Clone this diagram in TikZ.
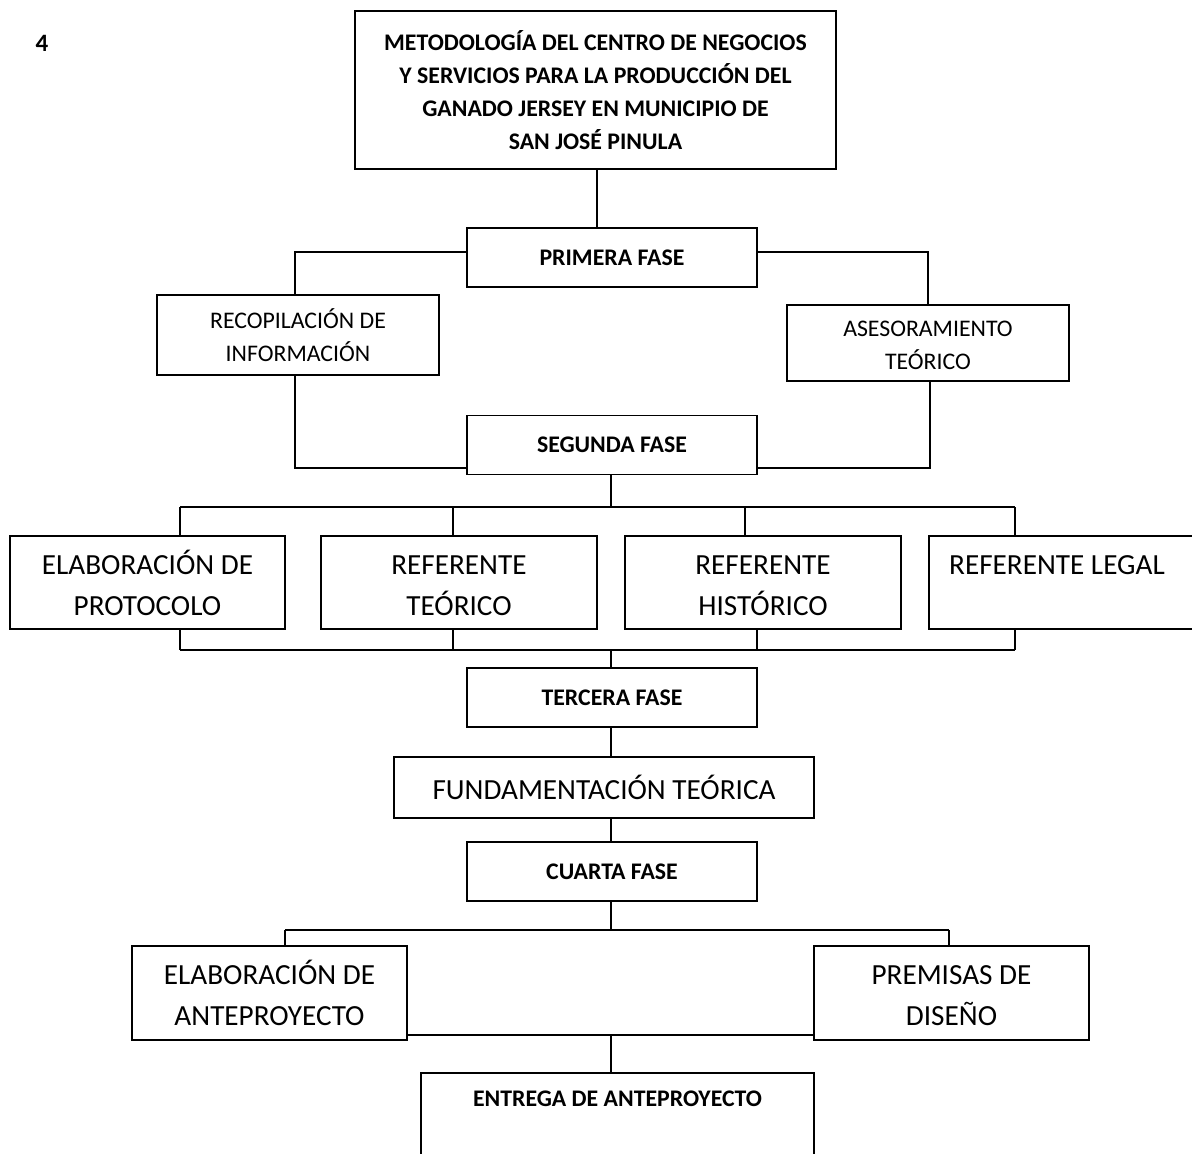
\documentclass[tikz,border=0pt]{standalone}
\usepackage{fontspec}
\setmainfont{Carlito}
\begin{document}
\begin{tikzpicture}[x=1pt,y=-1pt,
  box/.style={draw, line width=1.9pt, inner sep=0pt, align=center},
  bt/.style={font=\bfseries\fontsize{23.8}{33}\selectfont},
  mt/.style={font=\fontsize{23.8}{33}\selectfont},
  lt/.style={font=\fontsize{29.2}{41}\selectfont},
  conn/.style={line width=1.6pt}]
\useasboundingbox (0,0) rectangle (1192,1154);
\fill[white] (0,0) rectangle (1192,1154);
\clip (0,0) rectangle (1192,1154);

\node[font=\bfseries\fontsize{25}{30}\selectfont] (num) at (42,43) {4};

\node[box,bt,minimum width=481pt,minimum height=158pt] (top) at (595.5,90)
  {METODOLOGÍA DEL CENTRO DE NEGOCIOS\\Y SERVICIOS PARA LA PRODUCCIÓN DEL\\GANADO JERSEY EN MUNICIPIO DE\\SAN JOSÉ PINULA};

\node[box,bt,minimum width=290pt,minimum height=59pt] (primera) at (612,257.5) {PRIMERA FASE};
\node[box,mt,minimum width=282pt,minimum height=80pt] (recop) at (298,335) {RECOPILACIÓN DE\\INFORMACIÓN};
\node[box,mt,minimum width=282pt,minimum height=76pt] (asesor) at (928,343) {ASESORAMIENTO\vphantom{Ó}\\TEÓRICO};
\node[box,bt,minimum width=290pt,minimum height=59pt] (segunda) at (612,445) {SEGUNDA FASE};

\node[box,lt,minimum width=275.5pt,minimum height=93pt] (p1) at (147.5,582.5) {ELABORACIÓN DE\\PROTOCOLO};
\node[box,lt,minimum width=275.5pt,minimum height=93pt] (p2) at (459,582.5) {REFERENTE\vphantom{Ó}\\TEÓRICO};
\node[box,lt,minimum width=275.5pt,minimum height=93pt] (p3) at (763,582.5) {REFERENTE\vphantom{Ó}\\HISTÓRICO};
\node[box,lt,minimum width=275.5pt,minimum height=93pt] (p4) at (1066.5,582.5) {REFERENTE LEGAL\vphantom{Ó}\hspace*{19pt}\\\mbox{}};

\node[box,bt,minimum width=290pt,minimum height=59pt] (tercera) at (612,697.5) {TERCERA FASE};
\node[box,lt,minimum width=420pt,minimum height=61pt] (fund) at (604,787.5) {FUNDAMENTACIÓN TEÓRICA};
\node[box,bt,minimum width=290pt,minimum height=59pt] (cuarta) at (612,871.5) {CUARTA FASE};

\node[box,lt,minimum width=275pt,minimum height=94pt] (ante) at (269.5,993) {ELABORACIÓN DE\\ANTEPROYECTO};
\node[box,lt,minimum width=275pt,minimum height=94pt] (prem) at (951.5,993) {PREMISAS DE\vphantom{Ó}\\DISEÑO};
\node[box,bt,anchor=north,minimum width=393pt,text height=33.7pt,text depth=110pt] (entrega) at (617.5,1072) {ENTREGA DE ANTEPROYECTO};

% connectors
\draw[conn] ([xshift=1.5pt]top.south) -- ([xshift=1.5pt]top.south |- primera.north);
\draw[conn] ([yshift=5.5pt]primera.west) -| ([xshift=-3pt]recop.north);
\draw[conn] ([yshift=5.5pt]primera.east) -| (asesor.north);
\draw[conn] ([xshift=-3pt]recop.south) |- ([yshift=-23pt]segunda.west);
\draw[conn] ([xshift=2pt]asesor.south) |- ([yshift=-23pt]segunda.east);

\coordinate (b1) at (611,507);
\coordinate (d1) at (180,507);
\coordinate (d2) at (453,507);
\coordinate (d3) at (745,507);
\coordinate (d4) at (1015,507);
\draw[conn] ([xshift=-1pt]segunda.south) -- (b1);
\draw[conn] (d1) -- (d4);
\draw[conn] (d1) -- (d1 |- p1.north);
\draw[conn] (d2) -- (d2 |- p2.north);
\draw[conn] (d3) -- (d3 |- p3.north);
\draw[conn] (d4) -- (d4 |- p4.north);

\coordinate (e0) at (611,650);
\coordinate (e1) at (180,650);
\coordinate (e2) at (453,650);
\coordinate (e3) at (757,650);
\coordinate (e4) at (1015,650);
\draw[conn] (e1 |- p1.south) -- (e1);
\draw[conn] (e2 |- p2.south) -- (e2);
\draw[conn] (e3 |- p3.south) -- (e3);
\draw[conn] (e4 |- p4.south) -- (e4);
\draw[conn] (e1) -- (e4);
\draw[conn] (e0) -- (e0 |- tercera.north);

\draw[conn] ([xshift=-1pt]tercera.south) -- ([xshift=-1pt]tercera.south |- fund.north);
\draw[conn] ([xshift=-1pt]cuarta.north |- fund.south) -- ([xshift=-1pt]cuarta.north);

\coordinate (c0) at (611,930);
\coordinate (c1) at (285,930);
\coordinate (c2) at (949,930);
\draw[conn] ([xshift=-1pt]cuarta.south) -- (c0);
\draw[conn] (c1) -- (c2);
\draw[conn] (c1) -- (c1 |- ante.north);
\draw[conn] (c2) -- (c2 |- prem.north);

\coordinate (j4) at (611,1035);
\draw[conn] ([yshift=-42pt]ante.east) -- ([yshift=-42pt]prem.west);
\draw[conn] (j4) -- (j4 |- entrega.north);
\end{tikzpicture}
\end{document}
